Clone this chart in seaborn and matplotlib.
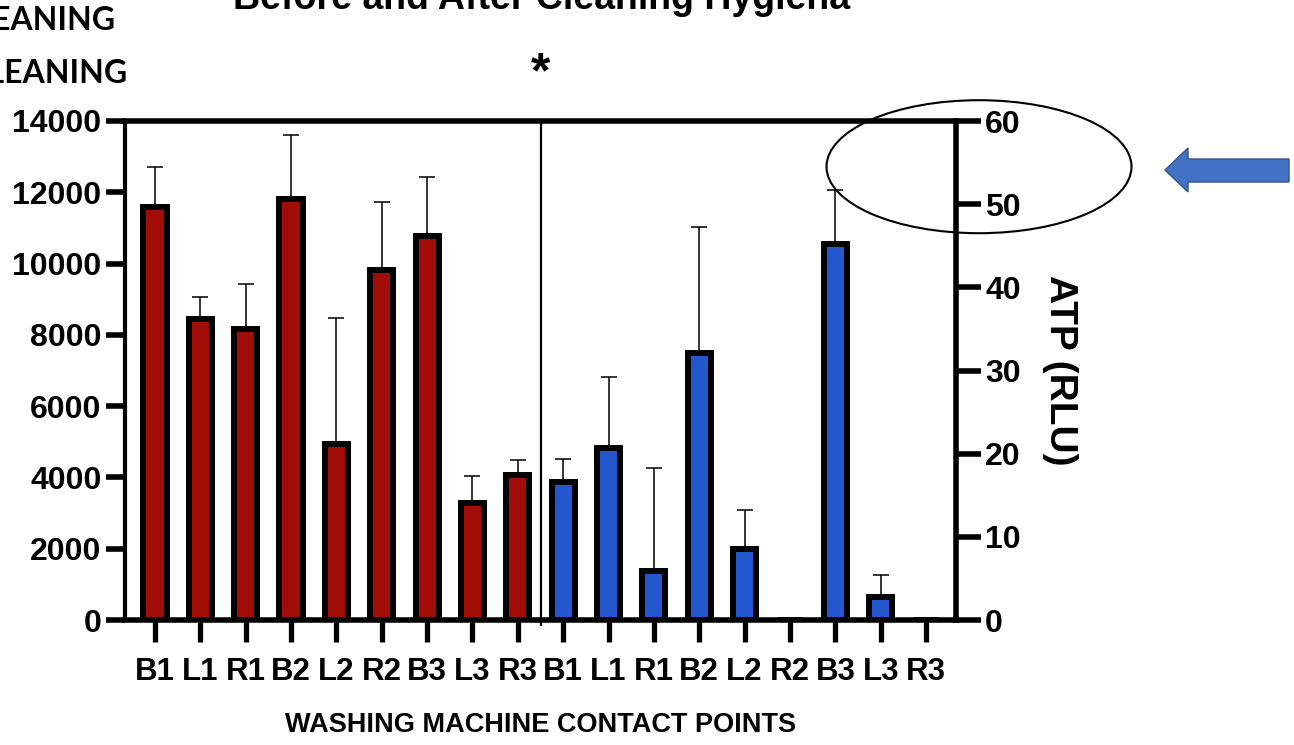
import numpy as np
import pandas as pd
import matplotlib
matplotlib.use("Agg")
import matplotlib.pyplot as plt
from matplotlib.patches import Ellipse, Polygon
import seaborn as sns

# Contact points sampled on the washing machine
points = ["B1", "L1", "R1", "B2", "L2", "R2", "B3", "L3", "R3"]

# Before cleaning: mean ATP (RLU, left axis) and upper SD
before_rlu = [11600, 8440, 8170, 11800, 4940, 9820, 10760, 3270, 4080]
before_sd = [1100, 630, 1260, 1810, 3530, 1920, 1670, 770, 410]

# After cleaning: mean ATP (RLU, right axis) and upper SD
after_rlu = [16.6, 20.7, 5.9, 32.1, 8.5, 0, 45.2, 2.8, 0]
after_sd = [2.8, 8.5, 12.4, 15.2, 4.7, 0, 6.5, 2.6, 0]

left_ticks = [0, 2000, 4000, 6000, 8000, 10000, 12000, 14000]
right_ticks = [0, 10, 20, 30, 40, 50, 60]

RED = "#A20D08"
BLUE = "#2357CE"

sns.set_style("ticks")
plt.rcParams["font.family"] = ["Liberation Sans", "DejaVu Sans"]
plt.rcParams["font.weight"] = "bold"
plt.rcParams["text.color"] = "black"
plt.rcParams["axes.labelcolor"] = "black"

W, H = 1294, 745
fx = lambda x: x / W
fy = lambda y: 1 - y / H

fig = plt.figure(figsize=(W / 100, H / 100), dpi=100)
ax = fig.add_axes([fx(125), fy(620), (956 - 125) / W, (620 - 121) / H])
ax2 = ax.twinx()

n = len(points)
pos_before = list(range(n))
pos_after = list(range(n, 2 * n))
order = list(range(2 * n))

before_df = pd.DataFrame({"pos": pos_before, "rlu": before_rlu})
after_df = pd.DataFrame({"pos": pos_after, "rlu": after_rlu})

bar_kw = dict(order=order, width=0.51, edgecolor="black", linewidth=4.3,
              saturation=1, zorder=3)
sns.barplot(data=before_df, x="pos", y="rlu", color=RED, ax=ax, **bar_kw)
sns.barplot(data=after_df, x="pos", y="rlu", color=BLUE, ax=ax2, **bar_kw)

# Upper-only error bars, tucked behind the bars
err_kw = dict(fmt="none", ecolor="black", elinewidth=1.1, capsize=5.6,
              capthick=1.1, zorder=2)
ax.errorbar(pos_before, before_rlu, yerr=[np.zeros(n), before_sd], **err_kw)
a_pos = [p for p, v in zip(pos_after, after_rlu) if v > 0]
a_val = [v for v in after_rlu if v > 0]
a_err = [e for v, e in zip(after_rlu, after_sd) if v > 0]
ax2.errorbar(a_pos, a_val, yerr=[np.zeros(len(a_val)), a_err], **err_kw)

ax.set_xlim(-0.66, 2 * n - 1 + 0.66)
ax.set_ylim(0, 14000)
ax2.set_ylim(0, 60)
ax.set_yticks(left_ticks)
ax2.set_yticks(right_ticks)

# Frame
for side in ["left", "top", "bottom"]:
    ax.spines[side].set_linewidth(4)
    ax.spines[side].set_color("black")
ax.spines["left"].set_linewidth(3)
ax.spines["right"].set_visible(False)
for side in ["left", "top", "bottom"]:
    ax2.spines[side].set_visible(False)
ax2.spines["right"].set_linewidth(4)
ax2.spines["right"].set_color("black")

ax.tick_params(axis="y", direction="out", length=14, width=4, pad=3,
               labelsize=23, colors="black")
ax.tick_params(axis="x", direction="out", length=16, width=3.8, pad=11,
               colors="black")
ax2.tick_params(axis="y", direction="out", length=18, width=4, pad=3,
                labelsize=23, colors="black")

ax.set_xticks(order)
ax.set_xticklabels(points + points, fontsize=22.5, fontweight="bold")
ax.set_ylabel("")
ax.set_xlabel("WASHING MACHINE CONTACT POINTS", fontsize=19.5,
              fontweight="bold", color="black")
ax.xaxis.set_label_coords(0.5, (620 - 712) / 499)
ax2.set_ylabel("ATP (RLU)", rotation=-90, fontsize=28, fontweight="bold",
               va="center", ha="center", color="black")
ax2.yaxis.set_label_coords((1060 - 125) / 831, 0.5)

# Divider between the two cleaning stages
ax.axvline(n - 0.5, ymin=-5 / 499, ymax=1, color="black", lw=1.6,
           clip_on=False, zorder=4)

# Header texts
fig.text(fx(542), fy(9), "Before and After Cleaning Hygiena", ha="center",
         va="baseline", fontsize=27, fontweight="bold")
fig.text(fx(541), fy(87), "*", ha="center", va="baseline", fontsize=36,
         fontweight="bold")
fig.text(fx(115), fy(30), "BEFORE CLEANING", ha="right", va="baseline",
         fontfamily="Lato", fontsize=23, fontweight="bold")
fig.text(fx(127), fy(83), "AFTER CLEANING", ha="right", va="baseline",
         fontfamily="Lato", fontsize=23, fontweight="bold")

# Highlight around the top of the right axis
fig.add_artist(Ellipse((fx(979), fy(166.7)), 305 / W, 133 / H,
                       transform=fig.transFigure, fill=False,
                       edgecolor="black", lw=1.5, clip_on=False))
arrow_px = [(1165, 170), (1188, 148), (1188, 159), (1289, 159),
            (1289, 182), (1188, 182), (1188, 192)]
fig.add_artist(Polygon([(fx(x), fy(y)) for x, y in arrow_px], closed=True,
                       transform=fig.transFigure, facecolor="#4472C4",
                       edgecolor="#2F528F", lw=1))

fig.savefig("out.png", dpi=100)
